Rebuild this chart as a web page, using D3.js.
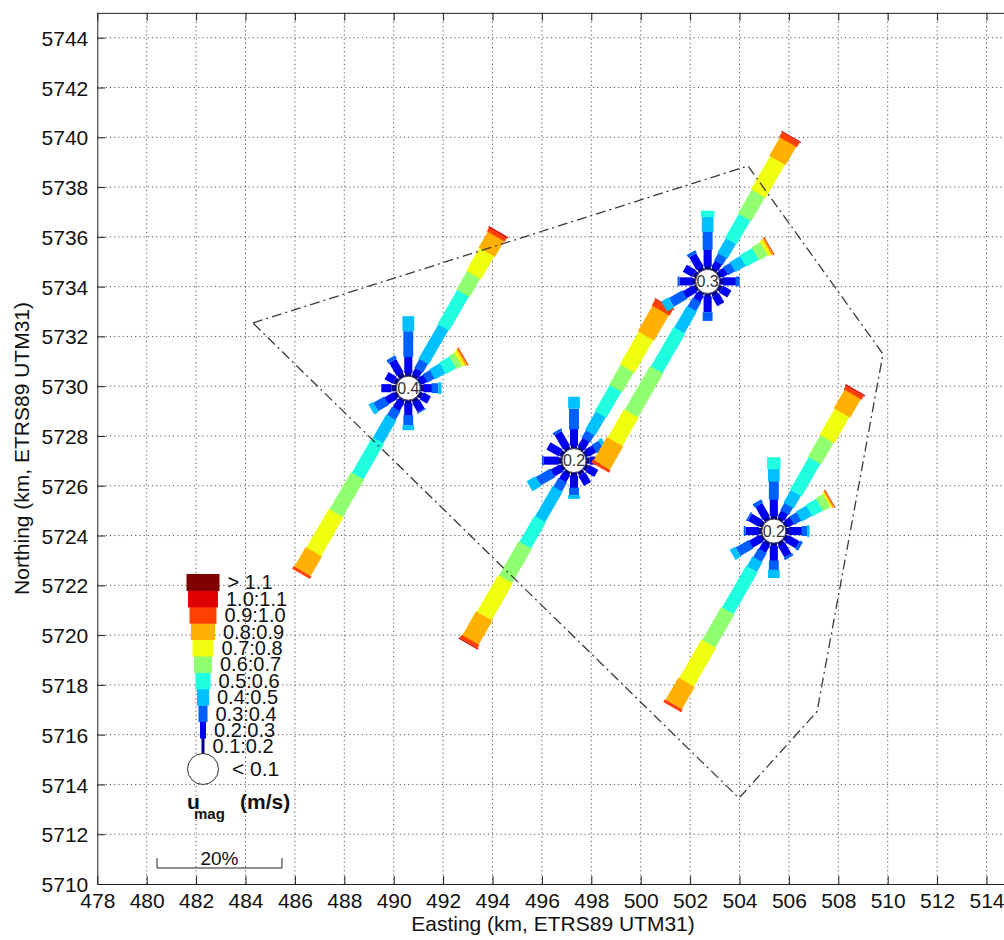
<!DOCTYPE html>
<html><head><meta charset="utf-8">
<script src="https://cdn.jsdelivr.net/npm/d3@7"></script>
<style>
body{margin:0;background:#fff}
svg{display:block}
text{font-family:"Liberation Sans",Arial,Helvetica,sans-serif}
</style>
</head><body>
<svg id="chart" width="1004" height="940"></svg>
<script>
// ---------------- DATA ----------------
const xTickValues = [478,480,482,484,486,488,490,492,494,496,498,500,502,504,506,508,510,512,514];
const yTickValues = [5710,5712,5714,5716,5718,5720,5722,5724,5726,5728,5730,5732,5734,5736,5738,5740,5742,5744];
const speedBinLabels = ["0.1:0.2","0.2:0.3","0.3:0.4","0.4:0.5","0.5:0.6","0.6:0.7","0.7:0.8","0.8:0.9","0.9:1.0","1.0:1.1","> 1.1"];
const calmLegendLabel = "< 0.1";
const directionsDeg = [0,30,60,90,120,150,180,210,240,270,300,330];

// rose centres (km) and calm percentage labels
const roseEasting  = [490.59, 497.30, 502.71, 505.39];
const roseNorthing = [5729.92, 5727.01, 5734.21, 5724.18];
const roseCalm     = ["0.4", "0.2", "0.3", "0.2"];

// frequency (%) per speed bin, for each direction (0..330 by 30 deg)
const rose1 = [
  [0.6,2.6,4.0,2.4],
  [0.5,1.0,1.6,6.3,6.3,3.4,4.2,2.9,0.6,0.2],
  [0.3,1.0,1.3,1.9,1.9,1.0,0.5,0.2,0.2],
  [0.6,1.3,1.0,0.5],
  [0.6,1.3],
  [0.6,1.6,0.2],
  [0.6,1.9,1.5,0.8],
  [0.5,1.5,1.6,4.2,6.6,6.9,7.1,3.5,0.5],
  [0.6,1.6,1.9,0.8],
  [0.8,1.6],
  [0.6,1.5],
  [0.8,2.3,0.6]
];
const rose2 = [
  [0.6,2.6,3.2,1.9],
  [0.5,1.5,1.3,3.4,4.8,3.7,6.0,4.7,1.0,0.2],
  [0.5,1.4,1.2,0.6],
  [0.6,1.8],
  [0.6,1.6],
  [0.6,1.8],
  [0.6,1.9,1.1,0.6],
  [0.5,1.3,1.6,5.6,4.8,6.3,6.8,4.4,0.5,0.2],
  [0.5,1.6,2.6,1.6],
  [0.6,2.3,0.3],
  [0.6,2.2],
  [0.6,2.6,0.4]
];
const rose3 = [
  [0.6,2.6,2.9,2.3,1.0],
  [0.5,1.1,1.3,2.7,4.4,4.4,6.1,3.4,0.8,0.2],
  [0.5,1.0,1.3,1.9,2.3,1.6,0.5,0.2,0.2],
  [0.6,2.0,0.6],
  [0.6,1.5],
  [0.6,1.7],
  [0.6,2.4,1.4],
  [0.5,1.1,1.6,4.0,7.3,8.1,5.2,4.2,0.5],
  [0.5,1.9,2.4,1.3],
  [0.6,2.0,0.3],
  [0.6,1.7],
  [0.6,2.3,0.5]
];
const rose4 = [
  [0.6,2.6,2.9,1.9,1.9],
  [0.5,1.1,1.3,2.3,6.0,4.0,4.8,3.4,0.6,0.2],
  [0.5,1.0,1.3,1.9,1.9,1.3,0.3,0.1,0.2],
  [0.6,2.0,0.8,0.4],
  [0.6,1.9,0.5],
  [0.6,2.0,0.4],
  [0.6,2.3,1.4,1.3],
  [0.5,1.3,1.6,1.8,7.7,6.1,7.1,4.0,0.5],
  [0.5,1.9,2.3,1.0],
  [0.6,2.0,0.3],
  [0.6,1.9,0.3],
  [0.6,2.3,0.6]
];

// survey area boundary (km)
const boundaryEasting  = [484.30, 504.34, 509.81, 507.14, 503.98];
const boundaryNorthing = [5732.54, 5738.85, 5731.29, 5716.93, 5713.45];

const scaleBarPct = 20;
const scaleBarLabel = "20%";
const xAxisTitle = "Easting (km, ETRS89 UTM31)";
const yAxisTitle = "Northing (km, ETRS89 UTM31)";

// ---------------- STYLE ----------------
const binColors = ["#000090","#0000f0","#0060ff","#00c0ff","#20ffe0","#90ff70","#f0ff10","#ffb000","#ff4000","#e00000","#800000"];
const kmPerPct = 0.253;
const r0 = 12;
const roseBinWidth = i => 1.8*(i+1)+4.5;
const legBinWidth = i => 3*(i+1);

// ---------------- CHART ----------------
const svg = d3.select("#chart");
const x = d3.scaleLinear().domain([478,516]).range([97.3, 97.3+38*24.7]);
const y = d3.scaleLinear().domain([5710,5745]).range([884, 884-35*24.89]);
const pctPx = p => x(478 + p*kmPerPct) - x(478);

// grid
const grid = svg.append("g");
xTickValues.filter(v => v !== 478).forEach(v => {
  grid.append("line").attr("x1", x(v)).attr("x2", x(v)).attr("y1", y(5710)).attr("y2", y(5745))
    .attr("stroke","#555").attr("stroke-width",1).attr("stroke-dasharray","1.2,3");
});
yTickValues.filter(v => v !== 5710).forEach(v => {
  grid.append("line").attr("x1", x(478)).attr("x2", x(516)).attr("y1", y(v)).attr("y2", y(v))
    .attr("stroke","#555").attr("stroke-width",1).attr("stroke-dasharray","1.2,3");
});

// roses
const roses = [rose1, rose2, rose3, rose4];
roses.forEach((rose, k) => {
  const g = svg.append("g").attr("transform", `translate(${x(roseEasting[k])},${y(roseNorthing[k])})`);
  rose.forEach((bins, d) => {
    const sg = g.append("g").attr("transform", `rotate(${directionsDeg[d]})`);
    let r = r0;
    bins.forEach((p, i) => {
      const len = pctPx(p);
      const w = roseBinWidth(i);
      sg.append("rect")
        .attr("x", -w/2).attr("y", -(r+len)).attr("width", w).attr("height", len + (i < bins.length-1 ? 0.6 : 0))
        .attr("fill", binColors[i]);
      r += len;
    });
  });
  g.append("circle").attr("r", r0).attr("fill","#fff").attr("stroke","#444").attr("stroke-width",1);
  g.append("text").attr("text-anchor","middle").attr("dy","0.36em").attr("font-size",16).attr("fill","#333")
    .text(roseCalm[k]);
});

// boundary polygon
const pts = boundaryEasting.map((e,i) => [x(e), y(boundaryNorthing[i])]);
svg.append("path").attr("d", d3.line()(pts) + "Z")
  .attr("fill","none").attr("stroke","#3a3a3a").attr("stroke-width",1.3).attr("stroke-dasharray","10,4,2,4");

// legend
const legCx = 203, legTop = 574, rowH = 16.4;
const leg = svg.append("g");
speedBinLabels.forEach((lab, i) => {
  const row = speedBinLabels.length - 1 - i;
  const yTop = legTop + row*rowH;
  const w = legBinWidth(i);
  leg.append("rect").attr("x", legCx - w/2).attr("y", yTop).attr("width", w).attr("height", rowH + 0.5)
    .attr("fill", binColors[i]);
});
speedBinLabels.forEach((lab, i) => {
  const row = speedBinLabels.length - 1 - i;
  const yMid = legTop + row*rowH + rowH/2;
  const w = legBinWidth(i);
  leg.append("text").attr("x", legCx + w/2 + 8).attr("y", yMid).attr("dy","0.36em")
    .attr("font-size",20).attr("fill","#111").text(lab);
});
leg.append("circle").attr("cx", legCx).attr("cy", 769).attr("r", 15.5)
  .attr("fill","#fff").attr("stroke","#333").attr("stroke-width",1);
leg.append("text").attr("x", 232).attr("y", 776).attr("font-size",21).attr("fill","#111").text(calmLegendLabel);
leg.append("text").attr("x", 187).attr("y", 809).attr("font-size",21).attr("font-weight","bold").attr("fill","#111").text("u");
leg.append("text").attr("x", 194).attr("y", 819).attr("font-size",15).attr("font-weight","bold").attr("fill","#111").text("mag");
leg.append("text").attr("x", 240).attr("y", 809).attr("font-size",21).attr("font-weight","bold").attr("fill","#111").text("(m/s)");

// scale bar
const sbX0 = 157, sbY = 868, sbLen = pctPx(scaleBarPct);
leg.append("path").attr("d", `M${sbX0},${sbY-10}V${sbY}H${sbX0+sbLen}V${sbY-10}`)
  .attr("fill","none").attr("stroke","#222").attr("stroke-width",1);
leg.append("text").attr("x", sbX0 + sbLen/2).attr("y", 865).attr("text-anchor","middle")
  .attr("font-size",19).attr("fill","#111").text(scaleBarLabel);

// axes
const axB = svg.append("g").attr("transform", `translate(0,${y(5710)})`)
  .call(d3.axisBottom(x).tickValues(xTickValues).tickSizeInner(-8).tickSizeOuter(0).tickPadding(9).tickFormat(d3.format("d")));
const axT = svg.append("g").attr("transform", `translate(0,${y(5745)})`)
  .call(d3.axisTop(x).tickValues(xTickValues).tickSizeInner(-8).tickSizeOuter(0).tickFormat(""));
const axL = svg.append("g").attr("transform", `translate(${x(478)},0)`)
  .call(d3.axisLeft(y).tickValues(yTickValues).tickSizeInner(-8).tickSizeOuter(0).tickPadding(9).tickFormat(d3.format("d")));
[axB, axT, axL].forEach(a => {
  a.selectAll("path.domain").attr("stroke","#222");
  a.selectAll(".tick line").attr("stroke","#222");
  a.selectAll("text").attr("font-size",21).attr("fill","#111")
    .attr("font-family","'Liberation Sans',Arial,sans-serif");
});
axL.selectAll(".tick text").attr("dy","0.36em");

// axis titles
svg.append("text").attr("x", 553).attr("y", 931).attr("text-anchor","middle")
  .attr("font-size",21).attr("fill","#111").text(xAxisTitle);
svg.append("text").attr("transform", `translate(29,${(y(5710)+y(5745))/2}) rotate(-90)`)
  .attr("text-anchor","middle").attr("font-size",21).attr("fill","#111").text(yAxisTitle);
</script>
</body></html>
